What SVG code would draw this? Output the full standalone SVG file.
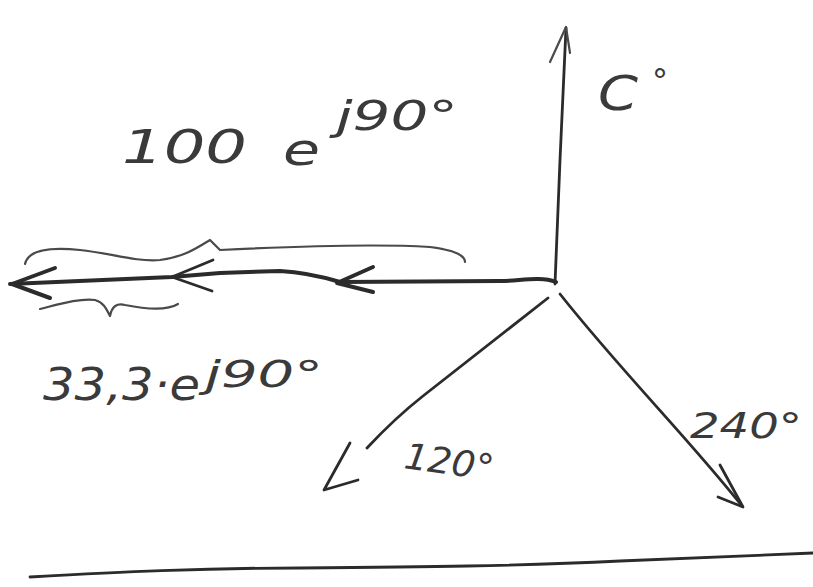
<svg xmlns="http://www.w3.org/2000/svg" width="813" height="587" viewBox="0 0 813 587">
<style>
.ln{fill:none;stroke:#2b2b2b;stroke-linecap:round;stroke-linejoin:round}
.thin{stroke-width:2.2;stroke:#4a4a4a}
.mid{stroke-width:2.8}
.bold{stroke-width:4}
.tx{font-family:"DejaVu Sans","Liberation Sans",sans-serif;fill:#3a3a3a;font-style:italic}
</style>
<rect width="813" height="587" fill="#ffffff"/>
<g id="connectors">
  <!-- vertical 0 deg phasor -->
  <path class="ln mid" d="M555 284 L560 160 L566 28"/>
  <path class="ln thin" d="M550 62 L566 27 L570 53"/>
  <!-- horizontal 90 deg phasor -->
  <path class="ln bold" d="M556 282 C540 276 520 281 500 281 L340 282 C320 276 300 272 280 271 L220 273 L172 277 L10 284"/>
  <path class="ln bold" d="M55 268 L12 284 L50 298"/>
  <path class="ln mid" d="M213 260 L172 277 L212 291"/>
  <path class="ln bold" d="M373 267 L337 283 L373 292"/>
  <!-- braces -->
  <path class="ln thin" d="M25 264 C28 250 50 247 80 250 C110 253 135 262 160 260 C185 257 200 246 210 240 L220 250 C300 246 380 244 430 247 C455 250 465 256 465 262"/>
  <path class="ln thin" d="M40 309 C60 304 80 298 95 300 C103 302 106 308 110 316 C112 306 117 303 125 305 C140 308 165 312 178 304"/>
  <!-- 120 deg phasor -->
  <path class="ln mid" d="M548 298 L423 396 Q395 418 367 448"/>
  <path class="ln mid" d="M350 443 L324 490 L358 480"/>
  <!-- 240 deg phasor -->
  <path class="ln mid" d="M560 294 C620 370 690 440 742 506"/>
  <path class="ln mid" d="M720 465 L743 507 L718 497"/>
  <!-- bottom line -->
  <path class="ln mid" d="M30 577 C120 572 200 568 300 568 C420 567 520 566 620 561 C700 558 760 555 813 553"/>
</g>
<g id="label-100">
  <text class="tx" x="122" y="163" font-size="46" textLength="125" lengthAdjust="spacingAndGlyphs">100</text>
  <text class="tx" x="283" y="165" font-size="44" textLength="37" lengthAdjust="spacingAndGlyphs">e</text>
  <text class="tx" x="336" y="130" font-size="40" textLength="122" lengthAdjust="spacingAndGlyphs">j90°</text>
</g>
<g id="label-33">
  <text class="tx" x="43" y="400" font-size="44" textLength="157" lengthAdjust="spacingAndGlyphs">33,3·e</text>
  <text class="tx" x="205" y="387" font-size="38" textLength="118" lengthAdjust="spacingAndGlyphs">j90°</text>
</g>
<g id="label-0">
  <text class="tx" x="598" y="110" font-size="48" textLength="40" lengthAdjust="spacingAndGlyphs">C</text>
  <text class="tx" x="652" y="92" font-size="32">°</text>
</g>
<g id="label-120">
  <text class="tx" x="403" y="468" font-size="36" textLength="90" lengthAdjust="spacingAndGlyphs" transform="rotate(8 403 468)">120°</text>
</g>
<g id="label-240">
  <text class="tx" x="690" y="438" font-size="36" textLength="112" lengthAdjust="spacingAndGlyphs">240°</text>
</g>
</svg>
